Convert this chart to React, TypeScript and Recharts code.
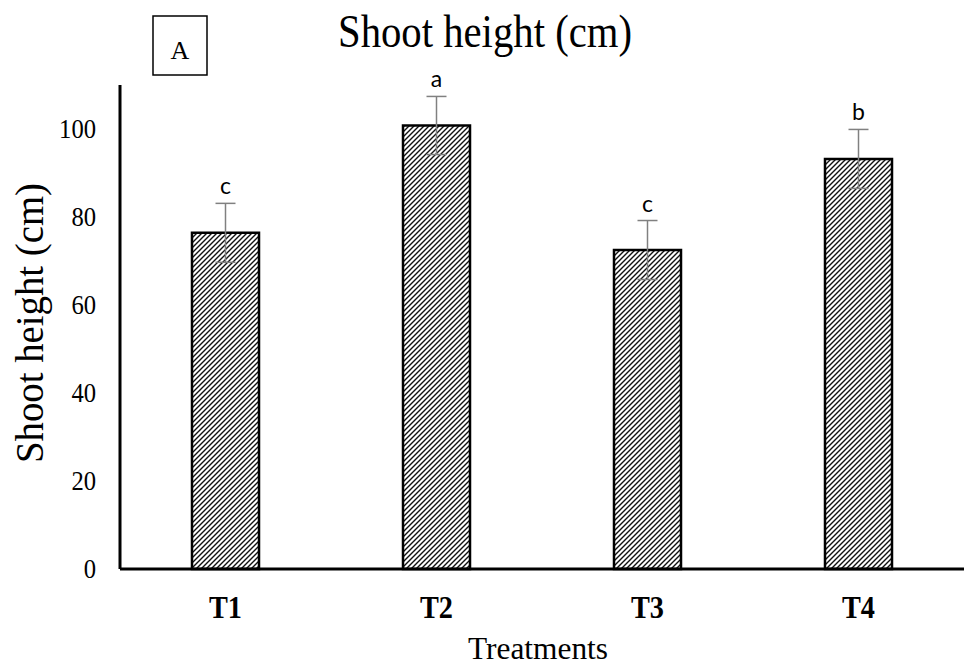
import React from 'react';
import { ComposedChart, Bar, Line, XAxis, YAxis, ErrorBar, LabelList } from 'recharts';

const treatments = ['T1', 'T2', 'T3', 'T4'];
const heights = [76.4, 100.8, 72.5, 93.2];
const errors = [6.7, 6.6, 6.7, 6.7];
const letters = ['c', 'a', 'c', 'b'];
const yTicks = [0, 20, 40, 60, 80, 100];

const serif = '"Liberation Serif", "Times New Roman", serif';

const chartData = treatments.map((t, i) => ({
  name: t,
  height: heights[i],
  err: errors[i],
  top: heights[i] + errors[i],
  letter: letters[i],
}));

// the source image is a bit narrow, so the glyphs are squeezed to its widths
const XTick = (props: any) => {
  const { x, y, payload } = props;
  return (
    <text
      x={x}
      y={y}
      dy={43}
      textAnchor="middle"
      fill="#000"
      fontFamily={serif}
      fontSize={31}
      fontWeight={700}
      textLength={33}
      lengthAdjust="spacingAndGlyphs"
    >
      {payload.value}
    </text>
  );
};

const YTick = (props: any) => {
  const { x, y, payload } = props;
  const s = String(payload.value);
  return (
    <text
      x={x}
      y={y}
      dy={9}
      textAnchor="end"
      fill="#000"
      fontFamily={serif}
      fontSize={28}
      textLength={12.3 * s.length}
      lengthAdjust="spacingAndGlyphs"
    >
      {s}
    </text>
  );
};

const Letter = (props: any) => {
  const { x, y, value } = props;
  return (
    <text x={x} y={y} dy={-9} textAnchor="middle" fill="#000" fontFamily='Lato, "Open Sans", sans-serif' fontSize={23}>
      {value}
    </text>
  );
};

export default function App() {
  return (
    <div style={{ position: 'absolute', left: 0, top: 0, width: 965, height: 667, background: '#fff' }}>
      <ComposedChart
        width={965}
        height={667}
        data={chartData}
        margin={{ top: 85, right: 1, left: 0, bottom: 0 }}
      >
        <defs>
          <pattern id="hatch" patternUnits="userSpaceOnUse" width="5" height="5">
            <rect width="5" height="5" fill="#fff" />
            <path d="M0,5 L5,0 M-1,1 L1,-1 M4,6 L6,4" stroke="#111" strokeWidth={1.4} />
          </pattern>
        </defs>
        <XAxis
          dataKey="name"
          height={98}
          axisLine={{ stroke: '#000', strokeWidth: 3 }}
          tickLine={false}
          tickMargin={0}
          tick={<XTick />}
        />
        <YAxis
          width={120}
          domain={[0, 110]}
          ticks={yTicks}
          axisLine={{ stroke: '#000', strokeWidth: 3 }}
          tickLine={false}
          tickMargin={18}
          tick={<YTick />}
        />
        <Bar
          dataKey="height"
          barSize={67}
          fill="url(#hatch)"
          stroke="#000"
          strokeWidth={2.5}
          isAnimationActive={false}
        >
          <ErrorBar dataKey="err" width={10} stroke="#808080" strokeWidth={1.5} direction="y" />
        </Bar>
        <Line
          dataKey="top"
          stroke="none"
          dot={false}
          activeDot={false}
          isAnimationActive={false}
        >
          <LabelList dataKey="letter" content={<Letter />} />
        </Line>
      </ComposedChart>
      <svg
        width={965}
        height={667}
        style={{ position: 'absolute', left: 0, top: 0, pointerEvents: 'none' }}
      >
        <rect x={153} y={16} width={54} height={59} fill="#fff" stroke="#000" strokeWidth={1.5} />
        <text x={180} y={59} textAnchor="middle" fontSize={26} fontFamily={serif} fill="#000">
          A
        </text>
        <text
          x={485}
          y={47}
          textAnchor="middle"
          fontSize={46}
          fontFamily={serif}
          fill="#000"
          textLength={294}
          lengthAdjust="spacingAndGlyphs"
        >
          Shoot height (cm)
        </text>
        <text
          transform="translate(43,323) rotate(-90)"
          textAnchor="middle"
          fontSize={41}
          fontFamily={serif}
          fill="#000"
          textLength={280}
          lengthAdjust="spacingAndGlyphs"
        >
          Shoot height (cm)
        </text>
        <text
          x={538}
          y={659}
          textAnchor="middle"
          fontSize={32}
          fontFamily={serif}
          fill="#000"
          textLength={140}
          lengthAdjust="spacingAndGlyphs"
        >
          Treatments
        </text>
      </svg>
    </div>
  );
}
